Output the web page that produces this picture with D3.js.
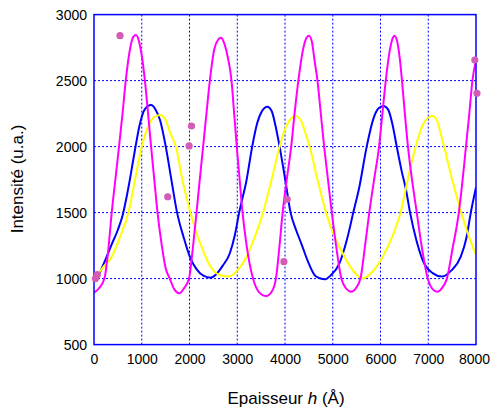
<!DOCTYPE html>
<html>
<head>
<meta charset="utf-8">
<script src="https://cdn.jsdelivr.net/npm/d3@7/dist/d3.min.js"></script>
<style>
  html, body { margin: 0; padding: 0; background: #fff; }
  svg { display: block; }
  text { font-family: "Liberation Sans", Arial, Helvetica, sans-serif; fill: #000; }
</style>
</head>
<body>
<div id="chart"></div>
<script>
// ---- data ----
const xTicks = [0, 1000, 2000, 3000, 4000, 5000, 6000, 7000, 8000];
const yTicks = [500, 1000, 1500, 2000, 2500, 3000];

const magentaX = [0,100,218,300,371,450,524,600,665,750,820,880,940,1000,1060,1120,1190,1260,1330,1420,1500,1587,1680,1790,1890,1990,2070,2147,2215,2285,2355,2426,2520,2600,2660,2720,2800,2880,2935,2990,3050,3111,3200,3330,3450,3610,3720,3810,3880,3950,4040,4130,4200,4280,4380,4460,4500,4560,4620,4680,4750,4820,4900,4980,5070,5180,5280,5390,5480,5580,5670,5765,5870,5970,6040,6110,6200,6260,6290,6340,6400,6450,6510,6575,6660,6760,6860,6990,7090,7190,7290,7390,7510,7640,7720,7790,7860,7925,8000];
const magentaY = [893,925,1000,1220,1500,1760,2000,2260,2500,2730,2830,2845,2800,2690,2520,2300,2020,1760,1500,1250,1080,1000,920,889,930,1000,1230,1500,1750,2000,2250,2500,2740,2810,2825,2790,2680,2500,2250,2000,1750,1500,1240,1000,900,868,900,1000,1230,1500,1760,2000,2250,2500,2740,2830,2840,2800,2650,2500,2250,2000,1750,1500,1250,1000,925,900,925,1000,1230,1500,1760,2000,2250,2500,2740,2825,2840,2810,2680,2500,2250,2000,1750,1500,1250,1000,920,900,930,1000,1230,1500,1750,2000,2250,2500,2655];

const blueX = [0,92,200,371,500,600,700,780,860,960,1060,1195,1290,1384,1503,1629,1740,1880,2006,2150,2300,2440,2550,2700,2845,2950,3040,3195,3313,3420,3520,3630,3720,3800,3887,4000,4117,4230,4340,4480,4620,4730,4840,4960,5140,5300,5430,5560,5711,5850,5960,6060,6160,6250,6340,6440,6535,6619,6760,6912,7100,7290,7480,7681,7800,7891,8000];
const blueY = [1000,1027,1110,1260,1370,1480,1650,1810,1980,2170,2280,2315,2280,2200,2000,1730,1500,1310,1166,1070,1020,1007,1030,1100,1192,1330,1500,1747,2000,2180,2270,2302,2270,2160,2000,1760,1500,1370,1267,1130,1027,1003,995,1025,1116,1300,1500,1700,2000,2210,2290,2308,2280,2170,2000,1820,1671,1500,1280,1116,1040,1015,1060,1166,1310,1500,1690];

const yellowX = [0,57,200,371,550,721,860,1000,1120,1250,1390,1500,1600,1713,1850,2020,2140,2252,2380,2495,2650,2820,3000,3195,3350,3540,3720,3887,4000,4100,4222,4330,4430,4516,4680,4860,5000,5172,5350,5500,5640,5850,6046,6250,6420,6600,6738,6880,7000,7086,7180,7260,7331,7500,7690,7850,8000];
const yellowY = [1010,1027,1090,1166,1320,1500,1750,2000,2140,2220,2239,2200,2100,2000,1750,1500,1350,1242,1130,1065,1025,1015,1060,1166,1300,1500,1750,2000,2130,2200,2232,2200,2100,2000,1750,1500,1350,1217,1100,1030,1002,1060,1166,1320,1500,1800,2000,2160,2220,2232,2200,2100,2000,1750,1500,1320,1179];

const dotX = [30, 70, 545, 1545, 1992, 2042, 3977, 4046, 7975, 8020];
const dotY = [1000, 1030, 2840, 1620, 2005, 2156, 1128, 1601, 2656, 2404];

const xTitle = "Epaisseur ";
const xTitleItalic = "h";
const xTitleEnd = " (Å)";
const yTitle = "Intensité (u.a.)";

// ---- drawing ----
const W = 491, H = 410;
const svg = d3.select("#chart").append("svg").attr("width", W).attr("height", H);

const x = d3.scaleLinear().domain([0, 8000]).range([94, 476]);
const y = d3.scaleLinear().domain([500, 3000]).range([344.6, 14.6]);

const gridColor = "#0000ff";

// grid lines
svg.append("g").selectAll("line").data(xTicks.slice(1, -1)).join("line")
  .attr("x1", d => x(d)).attr("x2", d => x(d))
  .attr("y1", y(500)).attr("y2", y(3000))
  .attr("stroke", gridColor).attr("stroke-width", 1).attr("stroke-dasharray", "2,2");
svg.append("g").selectAll("line").data(yTicks.slice(1, -1)).join("line")
  .attr("y1", d => y(d)).attr("y2", d => y(d))
  .attr("x1", x(0)).attr("x2", x(8000))
  .attr("stroke", gridColor).attr("stroke-width", 1).attr("stroke-dasharray", "2,2");

// axes (labels only, frame drawn separately)
const xAxis = d3.axisBottom(x).tickValues(xTicks).tickSize(0).tickPadding(9).tickFormat(d3.format("d"));
const gx = svg.append("g").attr("transform", `translate(0,${y(500)})`).call(xAxis);
gx.select(".domain").remove();
gx.selectAll("text").attr("font-size", 14).attr("font-family", "Liberation Sans, Arial, sans-serif").attr("fill", "#000");
gx.selectAll("text").filter(d => d === 8000).attr("dx", -2);

const yAxis = d3.axisLeft(y).tickValues(yTicks).tickSize(0).tickPadding(7).tickFormat(d3.format("d"));
const gy = svg.append("g").attr("transform", `translate(${x(0)},0)`).call(yAxis);
gy.select(".domain").remove();
gy.selectAll("text").attr("font-size", 14).attr("font-family", "Liberation Sans, Arial, sans-serif").attr("fill", "#000");

// clip
svg.append("clipPath").attr("id", "clip").append("rect")
  .attr("x", x(0)).attr("y", y(3000)).attr("width", x(8000) - x(0)).attr("height", y(500) - y(3000));

const line = d3.line().x(d => x(d[0])).y(d => y(d[1])).curve(d3.curveMonotoneX);
const series = [
  { xs: blueX, ys: blueY, color: "#0000ff" },
  { xs: yellowX, ys: yellowY, color: "#ffff00" },
  { xs: magentaX, ys: magentaY, color: "#ff00ff" }
];
const gl = svg.append("g").attr("clip-path", "url(#clip)");
series.forEach(s => {
  gl.append("path").datum(s.xs.map((v, i) => [v, s.ys[i]]))
    .attr("d", line).attr("fill", "none").attr("stroke", s.color).attr("stroke-width", 2);
});

// frame
svg.append("rect").attr("x", x(0)).attr("y", y(3000))
  .attr("width", x(8000) - x(0)).attr("height", y(500) - y(3000))
  .attr("fill", "none").attr("stroke", "#0000ff").attr("stroke-width", 1.5);

// dots
svg.append("g").selectAll("circle").data(dotX.map((v, i) => [v, dotY[i]])).join("circle")
  .attr("cx", d => x(d[0])).attr("cy", d => y(d[1])).attr("r", 3.6)
  .attr("fill", "#d45bb6");

// titles
const xt = svg.append("text").attr("x", 286).attr("y", 404).attr("text-anchor", "middle").attr("font-size", 17);
xt.append("tspan").text(xTitle);
xt.append("tspan").attr("font-style", "italic").text(xTitleItalic);
xt.append("tspan").text(xTitleEnd);

svg.append("text").attr("transform", "translate(23,179) rotate(-90)")
  .attr("text-anchor", "middle").attr("font-size", 17).text(yTitle);
</script>
</body>
</html>
